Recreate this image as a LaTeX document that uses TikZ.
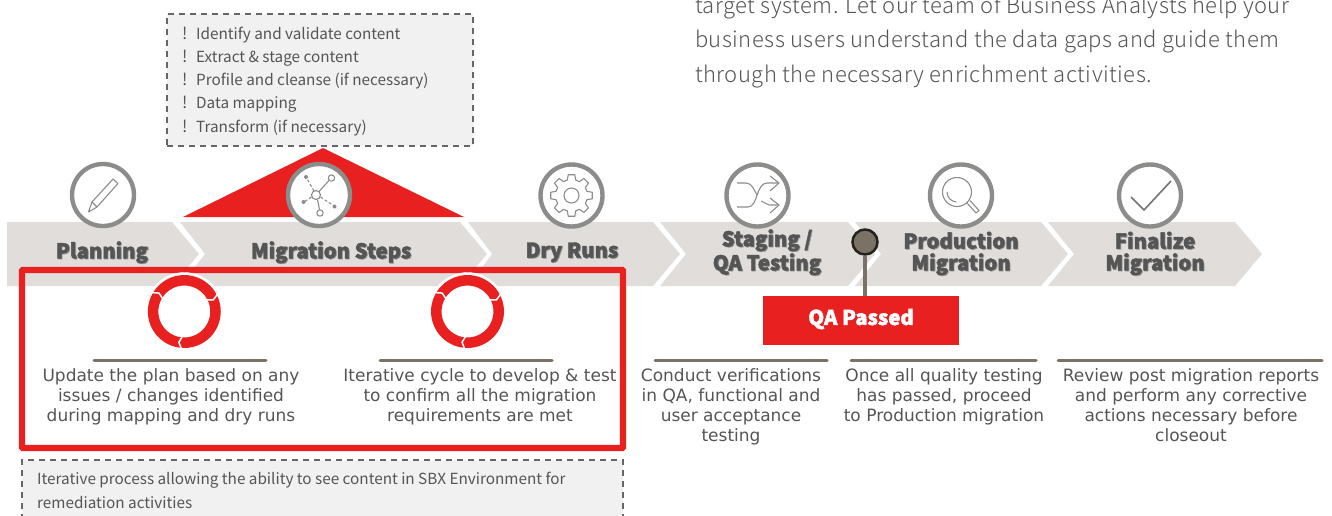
\documentclass[tikz,border=0pt]{standalone}
\usepackage{fontspec}
\setmainfont{Noto Sans CJK JP}
\newfontfamily\bodyf{DejaVu Sans}
\newfontfamily\parf[LetterSpace=2.2]{Noto Sans CJK JP Light}
\newfontfamily\boxf{Noto Sans CJK JP}
\newfontfamily\headf[FakeBold=2.2]{Noto Sans CJK JP Black}
\definecolor{bar}{HTML}{E0DDDA}
\definecolor{red1}{HTML}{E8201F}
\definecolor{brown1}{HTML}{7A7265}
\definecolor{txt}{HTML}{555555}
\definecolor{ring}{HTML}{8C8C8A}
\definecolor{boxfill}{HTML}{F1F1F1}
\tikzset{
 x=1pt,y=-1pt,
 chev/.style={fill=bar,draw=none},
 iconc/.style={circle,draw=ring,line width=4.4pt,fill=white,minimum size=62pt,inner sep=0pt},
 ico/.style={draw=ring,line width=1.1pt,line join=round},
 head/.style={font=\headf\fontsize{20.3}{24}\selectfont,text=txt,align=center,inner sep=0pt},
 headsh/.style={font=\headf\fontsize{20.3}{24}\selectfont,text=black!40,align=center,inner sep=0pt},
 bodyt/.style={font=\bodyf\fontsize{17}{20.1}\selectfont,text=txt,align=center,inner sep=0pt,anchor=north,execute at begin node={\rule{0pt}{14pt}}},
 rulel/.style={draw=brown1,line width=3pt,line cap=round},
 dashbox/.style={fill=boxfill,draw=black!60,line width=1.3pt,dash pattern=on 6pt off 5pt},
 lst/.style={font=\boxf\fontsize{15.3}{18}\selectfont,text=txt,inner sep=0pt,anchor=base west},
 ringc/.style={circle,draw=white,fill=white,minimum size=78pt,inner sep=0pt},
}
\newcommand{\cyc}[3]{%
 \node[ringc] (#1) at (#2,#3) {};
 \draw[red1,line width=10.5pt] (#1.center) circle[radius=31.2pt];
 \begin{scope}[shift={(#2,#3)}]
  \foreach \t in {210,332,94}{
   \draw[white,line width=1.5pt,line join=miter] (\t:24.5) -- (\t+6:31.3) -- (\t:38);
  }
 \end{scope}}
\newcommand{\hd}[3]{%
 \node[headsh] at (#1+0.8,#2+2.1) {#3};
 \node[head] at (#1,#2+1.3) {#3};}
\newcommand{\itm}[2]{%
 \node[lst,font=\boxf\fontsize{16.5}{18}\selectfont] at (182,#1) {!};
 \node[lst] at (196,#1) {#2};}
\begin{document}
\begin{tikzpicture}
\useasboundingbox (0,0) rectangle (1332,515);
\clip (0,0) rectangle (1332,515);
% paragraph
\node[font=\parf\fontsize{22}{24}\selectfont,text=txt,anchor=base west,inner sep=0pt] (p1) at (695,13) {target system. Let our team of Business Analysts help your};
\node[font=\parf\fontsize{22}{24}\selectfont,text=txt,anchor=base west,inner sep=0pt] (p2) at (695,47) {business users understand the data gaps and guide them};
\node[font=\parf\fontsize{22}{24}\selectfont,text=txt,anchor=base west,inner sep=0pt] (p3) at (695,82) {through the necessary enrichment activities.};
% chevrons
\fill[chev] (7,222) -- (172,222) -- (199,254) -- (172,286) -- (7,286) -- cycle;
\fill[chev] (180,222) -- (460,222) -- (487,254) -- (460,286) -- (180,286) -- (205,254) -- cycle;
\fill[chev] (468,222) -- (653,222) -- (680,254) -- (653,286) -- (468,286) -- (492,254) -- cycle;
\fill[chev] (660,222) -- (848,222) -- (875,254) -- (848,286) -- (660,286) -- (686,254) -- cycle;
\fill[chev] (855,222) -- (1041,222) -- (1068,254) -- (1041,286) -- (855,286) -- (881,254) -- cycle;
\fill[chev] (1048,222) -- (1235,222) -- (1262,254) -- (1235,286) -- (1048,286) -- (1074,254) -- cycle;
% top box and triangle
\node[dashbox,minimum width=306pt,minimum height=132pt,inner sep=0pt] (topbox) at (320,80) {};
\itm{39}{Identify and validate content}
\itm{62}{Extract \& stage content}
\itm{85.5}{Profile and cleanse (if necessary)}
\itm{108.5}{Data mapping}
\itm{132}{Transform (if necessary)}
\fill[red1] (323,148) -- (464,217) -- (183,217) -- cycle;
% icons
\node[iconc] (i1) at (103,195) {};
\node[iconc] (i2) at (319,195) {};
\node[iconc] (i3) at (571.5,195.5) {};
\node[iconc] (i4) at (757.5,195.5) {};
\node[iconc] (i5) at (961,195.5) {};
\node[iconc] (i6) at (1150,195.5) {};
% pencil
\draw[ico] (113,179) -- (118,183.5) -- (97,207) -- (88.5,212) -- (92,202) -- cycle;
\draw[ico] (92,202) -- (97,207);
% network
\begin{scope}[ico]
\draw (316,195) circle[radius=4.5pt];
\draw (331.5,178) circle[radius=3.2pt];
\draw (320,213) circle[radius=3.2pt];
\draw (319,191.5) -- (329,180.5);
\draw (317.5,199.5) -- (319.5,209.5);
\draw[dash pattern=on 3pt off 2pt] (314,191) -- (306,177);
\draw[dash pattern=on 3pt off 2pt] (320.5,197) -- (334,206);
\draw[dash pattern=on 3pt off 2pt] (311.5,197) -- (304,202);
\fill[ring] (306,177) circle[radius=2pt] (334.5,206.5) circle[radius=2pt] (303.5,202) circle[radius=2pt];
\end{scope}
% gear
\begin{scope}[shift={(571.5,195.5)}]
\draw[ico] (-9:21) \foreach \a in {0,45,...,315}{ -- (\a-9:21) -- (\a+9:21) -- (\a+15:16) -- (\a+30:16)} -- cycle;
\draw[ico] (0,0) circle[radius=7.5pt];
\end{scope}
% shuffle
\draw[ico] (737,207) -- (748,207) .. controls (758,207) and (756,183) .. (767,183) -- (778,183);
\draw[ico] (737,183) -- (746,183) .. controls (752,183) and (754,190) .. (757,195);
\draw[ico] (761,201) -- (769,205) -- (778,205);
\draw[ico] (770,176) -- (779,183) -- (770,191);
\draw[ico] (770,198) -- (779,205) -- (770,213);
% magnifier
\draw[ico] (957,192) circle[radius=14.5pt];
\draw[ico] (947,192) arc[start angle=180,end angle=265,radius=10pt];
\draw[ico] (967,203) -- (976,213) -- (979,210.5) -- (970,200.5);
% check
\draw[ico,line width=1.6pt,draw=black!55] (1131,197) -- (1144,210) -- (1171,181);
% headings
\hd{102}{251}{Planning}
\hd{331}{251}{Migration Steps}
\hd{572}{251}{Dry Runs}
\hd{767}{239}{Staging /}
\hd{767}{263}{QA Testing}
\hd{961}{239}{Production}
\hd{961}{263}{Migration}
\hd{1155}{239}{Finalize}
\hd{1155}{263}{Migration}
% red frame
\draw[red1,line width=6.4pt,rounded corners=1pt] (22,270) rectangle (623,448);
% cycles
\cyc{cy1}{184.3}{311.5}
\cyc{cy2}{467.5}{311.5}
% rules
\draw[rulel] (94,360) -- (266,360);
\draw[rulel] (380,360) -- (552,360);
\draw[rulel] (655,360) -- (827,360);
\draw[rulel] (851,360) -- (1036,360);
\draw[rulel] (1058,360) -- (1322,360);
% body
\node[bodyt] (b1) at (171,368.4) {Update the plan based on any\\issues / changes identified\\during mapping and dry runs};
\node[bodyt] (b2) at (480,368.4) {Iterative cycle to develop \& test\\to confirm all the migration\\requirements are met};
\node[bodyt] (b3) at (731,368.4) {Conduct verifications\\in QA, functional and\\user acceptance\\testing};
\node[bodyt] (b4) at (944,368.4) {Once all quality testing\\has passed, proceed\\to Production migration};
\node[bodyt] (b5) at (1191,368.4) {Review post migration reports\\and perform any corrective\\actions necessary before\\closeout};
% pin
\node[circle,fill=brown1,draw=black!70!brown1,line width=2.5pt,minimum size=25pt,inner sep=0pt] (pin) at (865,242) {};
\node[fill=red1,minimum width=196pt,minimum height=49pt,inner sep=0pt] (qa) at (861,320.5) {};
\node[text=white,font=\headf\fontsize{20.3}{24}\selectfont,inner sep=0pt] (qat) at (861,319) {QA Passed};
\draw[brown1,line width=4pt] (pin.south) -- (pin.south |- qa.north);
% bottom box
\fill[boxfill] (22,460) rectangle (623,520);
\draw[dashbox,fill=none] (22,520) -- (22,460) -- (623,460) -- (623,520);
\node[lst] (n1) at (37,484) {Iterative process allowing the ability to see content in SBX Environment for};
\node[lst] (n2) at (37,508) {remediation activities};
\end{tikzpicture}
\end{document}
